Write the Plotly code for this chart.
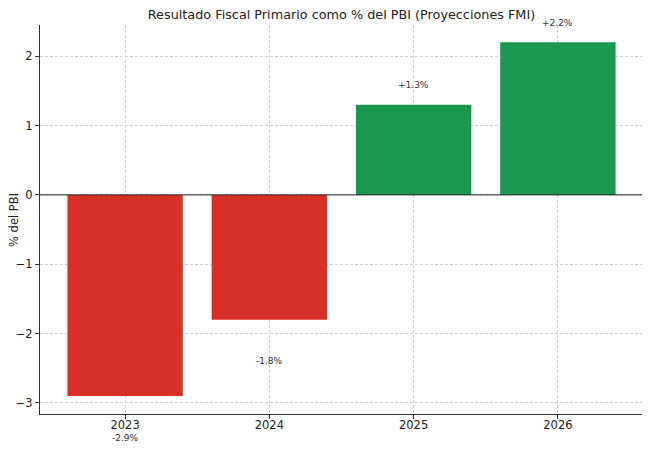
import plotly.graph_objects as go

years = ["2023", "2024", "2025", "2026"]
values = [-2.9, -1.8, 1.3, 2.2]
labels = ["-2.9%", "-1.8%", "+1.3%", "+2.2%"]

RED = "#d73027"
GREEN = "#1a9850"
colors = [GREEN if v >= 0 else RED for v in values]

Y_RANGE = [-3.16, 2.45]

fig = go.Figure()
fig.add_trace(go.Bar(
    x=years, y=values, marker=dict(color=colors, line=dict(width=0)),
    width=0.8, showlegend=False, hoverinfo="skip",
))

# value labels (converted to paper coords so labels outside the axis range still show)
for i, (v, lab) in enumerate(zip(values, labels)):
    off = 0.28 if v >= 0 else -0.6
    ypos = (v + off - Y_RANGE[0]) / (Y_RANGE[1] - Y_RANGE[0])
    fig.add_annotation(x=i, y=ypos, xref="x", yref="paper", text=lab,
                       showarrow=False, font=dict(size=9, color="#333333"),
                       xanchor="center", yanchor="middle")

fig.add_shape(type="line", xref="paper", x0=0, x1=1, yref="y", y0=0, y1=0,
              line=dict(color="#222222", width=1))

fig.add_annotation(text="% del PBI", xref="paper", yref="paper",
                   x=-0.044, y=0.5, xanchor="center", yanchor="middle",
                   textangle=-90, showarrow=False,
                   font=dict(size=11.5, color="#222222"))

W, H = 642, 442
fig.update_layout(
    width=W, height=H,
    margin=dict(l=32, r=7, t=17, b=36, autoexpand=False),
    paper_bgcolor="white", plot_bgcolor="white",
    font=dict(family="DejaVu Sans", color="#222222", size=11),
    title=dict(text="Resultado Fiscal Primario como % del PBI (Proyecciones FMI)",
               x=0.5, xref="paper", xanchor="center", y=1 - 7 / H,
               yanchor="middle", font=dict(size=12.8, color="#222222")),
)
axis_common = dict(
    showline=True, linecolor="#333333", linewidth=1,
    ticks="outside", ticklen=4, tickcolor="#333333",
    showgrid=True, gridcolor="#d0d0d0", griddash="3px,2px", gridwidth=0.7,
    layer="above traces", tickfont=dict(size=11.5, color="#222222"),
    automargin=False,
)
fig.update_xaxes(type="category", range=[-0.59, 3.59], ticklabelstandoff=-4,
                 **axis_common)
fig.update_yaxes(range=Y_RANGE, dtick=1, zeroline=False, **axis_common)

fig.write_html("out.html")
